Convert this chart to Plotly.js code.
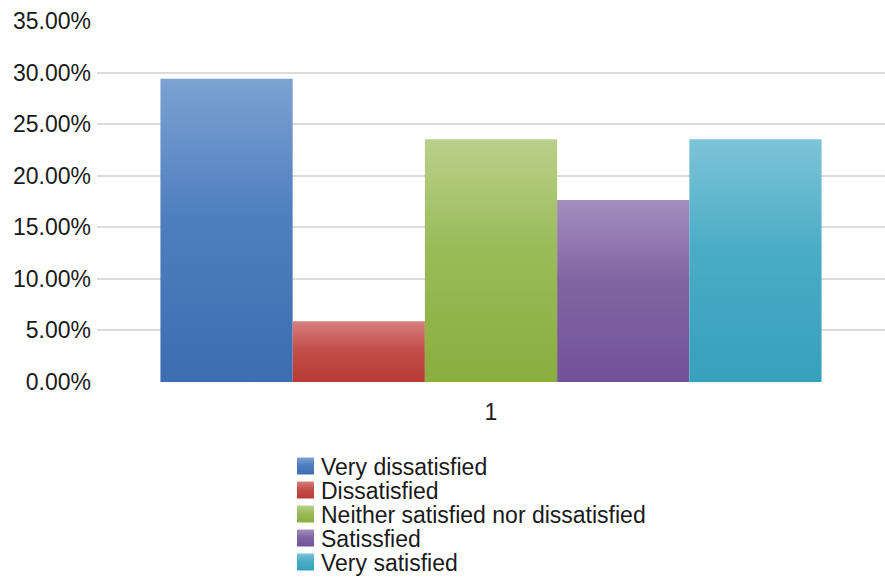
<!DOCTYPE html>
<html>
<head>
<meta charset="utf-8">
<script src="https://cdn.plot.ly/plotly-3.0.1.min.js"></script>
<style>html,body{margin:0;padding:0;background:#fff;}</style>
</head>
<body>
<div id="chart" style="width:885px;height:583px;"></div>
<script>
// Data
const categories = ["1"];
const seriesNames = ["Very dissatisfied", "Dissatisfied", "Neither satisfied nor dissatisfied", "Satissfied", "Very satisfied"];
const seriesValues = [0.2941, 0.0588, 0.2353, 0.1765, 0.2353];
const seriesColors = ["#4f7fc0", "#c44f4b", "#9bbb59", "#8064a2", "#4bacc6"];
const gradTop = ["#7ca2d2", "#d67f7c", "#bad08b", "#a38ebf", "#7dc4d8"];
const gradBottom = ["#3b6db0", "#b83a36", "#8aae3e", "#72529a", "#36a0bd"];
const yTicks = [0, 0.05, 0.10, 0.15, 0.20, 0.25, 0.30, 0.35];

const traces = seriesNames.map((name, i) => ({
  type: "bar",
  name: name,
  x: categories,
  y: [seriesValues[i]],
  marker: { color: seriesColors[i], line: { width: 0 } },
  hoverinfo: "none"
}));

const font = "Liberation Sans, Arial, Helvetica, sans-serif";
const layout = {
  width: 885, height: 583,
  margin: { l: 97, r: 0, t: 21, b: 201 },
  paper_bgcolor: "#ffffff",
  plot_bgcolor: "#ffffff",
  barmode: "group",
  bargap: 0.161,
  bargroupgap: 0,
  showlegend: true,
  font: { family: font, size: 23, color: "#1a1a1a" },
  xaxis: {
    type: "category",
    showgrid: false, zeroline: false, showline: false, ticks: "",
    ticklabelstandoff: 14,
    tickfont: { family: font, size: 23, color: "#1a1a1a" }
  },
  yaxis: {
    range: [0, 0.35],
    tickvals: yTicks,
    tickformat: ".2%",
    showgrid: true, gridcolor: "#dcdcdc", gridwidth: 2,
    zeroline: false, showline: false, ticks: "",
    ticklabelstandoff: 5,
    tickfont: { family: font, size: 23, color: "#1a1a1a" }
  },
  legend: {
    orientation: "h",
    entrywidth: 560, entrywidthmode: "pixels",
    xref: "container", yref: "container",
    x: 281 / 885, xanchor: "left",
    y: 1 - 400 / 583, yanchor: "top",
    font: { family: font, size: 23, color: "#1a1a1a" },
    bgcolor: "rgba(0,0,0,0)",
    borderwidth: 0,
    tracegroupgap: 0,
    traceorder: "normal"
  }
};

Plotly.newPlot("chart", traces, layout, { displayModeBar: false, staticPlot: true }).then(gd => {
  const svgNS = "http://www.w3.org/2000/svg";
  const svg = gd.querySelector(".main-svg");
  let defs = svg.querySelector("defs");
  if (!defs) { defs = document.createElementNS(svgNS, "defs"); svg.insertBefore(defs, svg.firstChild); }
  seriesNames.forEach((n, i) => {
    const g = document.createElementNS(svgNS, "linearGradient");
    g.setAttribute("id", "bargrad" + i);
    g.setAttribute("x1", "0"); g.setAttribute("y1", "0");
    g.setAttribute("x2", "0"); g.setAttribute("y2", "1");
    const s1 = document.createElementNS(svgNS, "stop");
    s1.setAttribute("offset", "0"); s1.setAttribute("stop-color", gradTop[i]);
    const s2 = document.createElementNS(svgNS, "stop");
    s2.setAttribute("offset", "0.45"); s2.setAttribute("stop-color", seriesColors[i]);
    const s3 = document.createElementNS(svgNS, "stop");
    s3.setAttribute("offset", "1"); s3.setAttribute("stop-color", gradBottom[i]);
    g.appendChild(s1); g.appendChild(s2); g.appendChild(s3);
    defs.appendChild(g);
  });
  gd.querySelectorAll(".barlayer .trace").forEach((t, i) => {
    t.querySelectorAll("path").forEach(p => { p.style.fill = "url(#bargrad" + i + ")"; });
  });
  // legend tweaks: place below axis, tighter spacing and larger swatches
  const leg = gd.querySelector("g.legend");
  if (leg) {
    const tr = leg.getAttribute("transform") || "";
    const m = tr.match(/translate\(\s*([-\d.]+)[ ,]+([-\d.]+)\s*\)/);
    const lx = m ? parseFloat(m[1]) : 281;
    leg.setAttribute("transform", "translate(" + lx + ",452)");
  }
  const items = gd.querySelectorAll(".legend .traces");
  items.forEach((it, i) => {
    it.setAttribute("transform", "translate(0," + (14 + i * 24) + ")");
    it.querySelectorAll(".legendpoints path").forEach(p => {
      p.setAttribute("d", "M-4,-8.5h17v17h-17Z");
      p.style.fill = "url(#bargrad" + i + ")";
    });
  });
  gd.querySelectorAll(".legend [clip-path]").forEach(e => e.removeAttribute("clip-path"));
});
</script>
</body>
</html>
